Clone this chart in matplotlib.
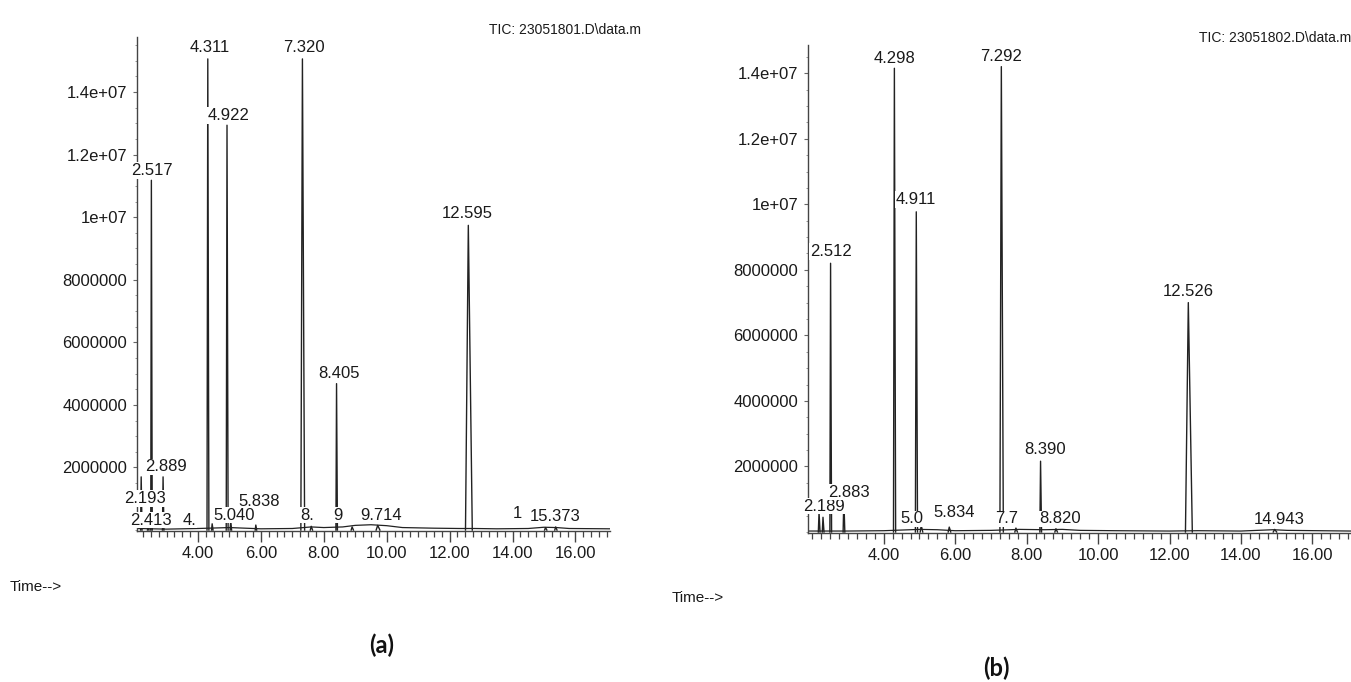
import matplotlib
matplotlib.use('Agg')
import matplotlib.pyplot as plt
from matplotlib.ticker import MultipleLocator, FixedLocator

# --- panel (a): 23051801 ---
title_a = 'TIC: 23051801.D\\data.m'
peak_t_a = [2.193, 2.413, 2.517, 2.889, 4.311, 4.45, 4.922, 5.040, 5.838,
            7.320, 7.60, 8.405, 8.90, 9.714, 12.595, 15.05, 15.373]
peak_h_a = [1.7e6, 0.25e6, 1.118e7, 1.7e6, 1.506e7, 0.2e6, 1.294e7, 0.3e6, 0.16e6,
            1.506e7, 0.12e6, 4.68e6, 0.1e6, 0.15e6, 9.74e6, 0.08e6, 0.1e6]
peak_w_a = [0.02, 0.02, 0.02, 0.02, 0.025, 0.02, 0.025, 0.02, 0.02,
            0.05, 0.03, 0.02, 0.03, 0.05, 0.09, 0.03, 0.03]
base_t_a = [2.06, 3.0, 4.0, 5.0, 6.0, 7.0, 7.6, 8.0, 8.6, 9.0, 9.5, 10.0,
            10.5, 11.5, 12.3, 12.8, 13.5, 14.5, 15.0, 15.4, 15.8, 17.1]
base_v_a = [0.05e6, 0.03e6, 0.05e6, 0.08e6, 0.04e6, 0.05e6, 0.1e6, 0.08e6, 0.1e6,
            0.15e6, 0.17e6, 0.14e6, 0.08e6, 0.06e6, 0.05e6, 0.05e6, 0.04e6,
            0.05e6, 0.09e6, 0.08e6, 0.05e6, 0.04e6]
label_text_a = ['4.311', '7.320', '4.922', '2.517', '12.595', '8.405',
                '2.889', '2.193', '2.413', '4.', '5.838', '5.040',
                '8.', '9', '9.714', '1', '15.373']
label_x_a = [4.36, 7.37, 4.98, 2.55, 12.56, 8.48,
             2.99, 2.33, 2.49, 3.73, 5.94, 5.14,
             7.48, 8.45, 9.82, 14.14, 15.34]
label_y_a = [1.544e7, 1.544e7, 1.325e7, 1.15e7, 1.012e7, 5.02e6,
             2.02e6, 1.01e6, 0.32e6, 0.32e6, 0.90e6, 0.48e6,
             0.48e6, 0.48e6, 0.48e6, 0.53e6, 0.43e6]
yticks_a = [2e6, 4e6, 6e6, 8e6, 1e7, 1.2e7, 1.4e7]

# --- panel (b): 23051802 ---
title_b = 'TIC: 23051802.D\\data.m'
peak_t_b = [2.189, 2.30, 2.512, 2.883, 4.298, 4.911, 5.05, 5.834,
            7.292, 7.70, 8.390, 8.820, 12.526, 14.943]
peak_h_b = [0.6e6, 0.45e6, 8.2e6, 1.0e6, 1.415e7, 9.77e6, 0.2e6, 0.15e6,
            1.42e7, 0.12e6, 2.16e6, 0.1e6, 7.0e6, 0.08e6]
peak_w_b = [0.02, 0.02, 0.02, 0.02, 0.025, 0.025, 0.03, 0.03,
            0.04, 0.03, 0.02, 0.03, 0.08, 0.04]
base_t_b = [1.88, 3.0, 4.0, 5.0, 5.5, 6.0, 7.0, 7.8, 8.5, 9.0, 9.5, 10.5,
            12.0, 12.8, 14.0, 14.9, 15.3, 17.08]
base_v_b = [0.03e6, 0.03e6, 0.04e6, 0.08e6, 0.07e6, 0.04e6, 0.05e6, 0.08e6,
            0.07e6, 0.08e6, 0.05e6, 0.04e6, 0.03e6, 0.04e6, 0.03e6, 0.07e6,
            0.05e6, 0.03e6]
label_text_b = ['4.298', '7.292', '4.911', '2.512', '12.526', '8.390',
                '2.189', '2.883', '5.0', '5.834', '7.7', '8.820', '14.943']
label_x_b = [4.298, 7.292, 4.911, 2.512, 12.526, 8.52,
             2.33, 3.03, 4.79, 5.97, 7.45, 8.94, 15.07]
label_y_b = [1.446e7, 1.452e7, 1.014e7, 8.55e6, 7.34e6, 2.53e6,
             0.79e6, 1.22e6, 0.40e6, 0.61e6, 0.40e6, 0.40e6, 0.38e6]
yticks_b = [2e6, 4e6, 6e6, 8e6, 1e7, 1.2e7, 1.4e7]
ytick_labels = ['2000000', '4000000', '6000000', '8000000', '1e+07', '1.2e+07', '1.4e+07']
xticks = [4, 6, 8, 10, 12, 14, 16]

FONT = 'Liberation Sans'
LINE = '#222222'


def draw_panel(ax, title, pt, ph, pw, bt, bv, lt, lx, ly, yticks, xlim, ylim, title_x):
    ax.plot(bt, bv, color=LINE, lw=0.9, zorder=2)
    for t, h, w in zip(pt, ph, pw):
        # pics estreitos; cauda leve a direita
        ax.plot([t - w, t, t + 1.4 * w], [0, h, 0], color=LINE, lw=1.0, zorder=2)
    for i, (s, x, y) in enumerate(zip(lt, lx, ly)):
        ax.text(x, y, s, ha='center', va='center', fontsize=12, family=FONT,
                color='#1a1a1a', zorder=5 + i,
                bbox=dict(facecolor='white', edgecolor='none', pad=0.6))
    ax.set_xlim(*xlim)
    ax.set_ylim(*ylim)
    for side in ['top', 'right']:
        ax.spines[side].set_visible(False)
    for side in ['left', 'bottom']:
        ax.spines[side].set_color('#444444')
        ax.spines[side].set_linewidth(1.0)
    ax.xaxis.set_major_locator(FixedLocator(xticks))
    ax.set_xticklabels(['%.2f' % v for v in xticks])
    ax.xaxis.set_minor_locator(MultipleLocator(0.25))
    ax.yaxis.set_major_locator(FixedLocator(yticks))
    ax.set_yticklabels(ytick_labels)
    ax.yaxis.set_minor_locator(MultipleLocator(5e5))
    ax.tick_params(axis='x', which='major', direction='out', length=8, width=1,
                   color='#444444', pad=3, labelsize=12)
    ax.tick_params(axis='x', which='minor', direction='out', length=4, width=0.9,
                   color='#444444')
    ax.tick_params(axis='y', which='major', direction='out', length=3, width=0.8,
                   color='#666666', pad=4, labelsize=12)
    ax.tick_params(axis='y', which='minor', direction='out', length=1.5, width=0.6,
                   color='#888888')
    for lab in ax.get_xticklabels() + ax.get_yticklabels():
        lab.set_family(FONT)
        lab.set_color('#1a1a1a')
    ax.text(title_x, 1.0, title, transform=ax.transAxes, ha='right', va='bottom',
            fontsize=10, family=FONT, color='#1a1a1a')


fig = plt.figure(figsize=(13.51, 6.82), dpi=100)
ax_a = fig.add_axes([137 / 1351, 151 / 682, 473 / 1351, 494 / 682])
ax_b = fig.add_axes([808 / 1351, 149 / 682, 543 / 1351, 488 / 682])

draw_panel(ax_a, title_a, peak_t_a, peak_h_a, peak_w_a, base_t_a, base_v_a,
           label_text_a, label_x_a, label_y_a, yticks_a, (2.06, 17.1),
           (-0.03e6, 1.576e7), 1.065)
draw_panel(ax_b, title_b, peak_t_b, peak_h_b, peak_w_b, base_t_b, base_v_b,
           label_text_b, label_x_b, label_y_b, yticks_b, (1.88, 17.08),
           (-0.03e6, 1.486e7), 1.0)

fig.text(10 / 1351, 1 - 587 / 682, 'Time-->', ha='left', va='center',
         fontsize=11, family=FONT, color='#1a1a1a')
fig.text(672 / 1351, 1 - 598 / 682, 'Time-->', ha='left', va='center',
         fontsize=11, family=FONT, color='#1a1a1a')
fig.text(382 / 1351, 1 - 645 / 682, '(a)', ha='center', va='center',
         fontsize=17, fontweight='bold', family='Lato', color='#111111')
fig.text(996 / 1351, 1 - 668 / 682, '(b)', ha='center', va='center',
         fontsize=17, fontweight='bold', family='Lato', color='#111111')

fig.savefig('out.png', dpi=100, facecolor='white')
